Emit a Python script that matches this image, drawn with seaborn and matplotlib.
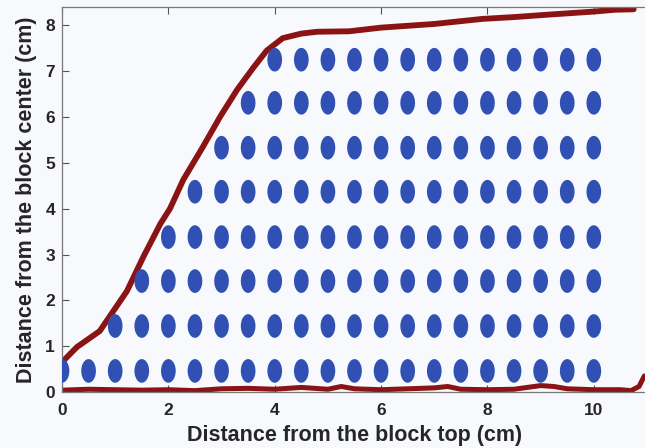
import numpy as np
import pandas as pd
import matplotlib
matplotlib.use("Agg")
import matplotlib.pyplot as plt
from matplotlib.path import Path
import seaborn as sns

# Measurement grid: column positions along the block top and row heights
col_x = [0.0, 0.5, 1.0, 1.5, 2.0, 2.5, 3.0, 3.5, 4.0, 4.5, 5.0,
         5.5, 6.0, 6.5, 7.0, 7.5, 8.0, 8.5, 9.0, 9.5, 10.0]
row_y = [0.46, 1.44, 2.42, 3.38, 4.37, 5.33, 6.31, 7.25]
row_start = [0.0, 1.0, 1.5, 2.0, 2.5, 3.0, 3.5, 4.0]

# Deformed boundary (upper curve)
curve_x = [0.0, 0.28, 0.71, 1.22, 1.53, 1.85, 2.03, 2.28, 2.65, 2.97, 3.29,
           3.6, 3.85, 4.15, 4.5, 4.8, 5.4, 6.0, 7.0, 7.9, 8.5, 9.1, 10.0, 10.4, 10.75]
curve_y = [0.65, 0.98, 1.33, 2.2, 2.95, 3.67, 4.0, 4.63, 5.35, 6.0, 6.59,
           7.08, 7.45, 7.72, 7.82, 7.86, 7.87, 7.95, 8.03, 8.14, 8.18, 8.23, 8.3, 8.34, 8.35]

# Lower edge trace
base_x = [0.0, 0.5, 1.0, 1.5, 2.0, 2.5, 3.0, 3.5, 4.0, 4.5, 5.0, 5.25, 5.5,
          6.0, 6.5, 7.0, 7.25, 7.5, 8.0, 8.5, 9.0, 9.25, 9.5, 10.0, 10.5,
          10.7, 10.85, 10.95]
base_y = [0.04, 0.06, 0.05, 0.04, 0.05, 0.03, 0.07, 0.08, 0.06, 0.1, 0.06, 0.12, 0.07,
          0.05, 0.07, 0.09, 0.12, 0.06, 0.05, 0.06, 0.14, 0.12, 0.07, 0.05, 0.05,
          0.03, 0.12, 0.35]

x_ticks = [0, 2, 4, 6, 8, 10]
y_ticks = [0, 1, 2, 3, 4, 5, 6, 7, 8]

pts = [(x, y) for y, x0 in zip(row_y, row_start) for x in col_x if x >= x0 - 1e-9]
grid = pd.DataFrame(pts, columns=["x", "y"])
curve = pd.DataFrame({"x": curve_x, "y": curve_y})
base = pd.DataFrame({"x": base_x, "y": base_y})

sns.set_style("ticks")
plt.rcParams["font.family"] = ["Liberation Sans", "DejaVu Sans"]

bg = "#F7F9FC"
fig = plt.figure(figsize=(6.45, 4.48), dpi=100, facecolor=bg)
ax = fig.add_axes([62 / 645, 1 - 392 / 448, 585 / 645, (392 - 7) / 448])
ax.set_facecolor(bg)

# vertical ellipse marker
t = np.linspace(0, 2 * np.pi, 60)
ell = Path(np.column_stack([0.62 * np.sin(t), np.cos(t)]), closed=True)

red = "#8A1414"
sns.lineplot(data=base, x="x", y="y", ax=ax, color=red, lw=3.6,
             sort=False, estimator=None, zorder=2)
sns.lineplot(data=curve, x="x", y="y", ax=ax, color=red, lw=4.2,
             sort=False, estimator=None, zorder=2, solid_capstyle="round")
sns.scatterplot(data=grid, x="x", y="y", ax=ax, marker=ell, s=290,
                color="#3050B4", edgecolor="none", linewidth=0, zorder=3)

ax.set_xlim(0, 11)
ax.set_ylim(0, 8.4)
ax.set_xticks(x_ticks)
ax.set_yticks(y_ticks)
ax.tick_params(direction="in", length=5, width=0.8, color="#555555",
               top=True, right=False, labelsize=12.5)
ax.tick_params(axis="x", pad=8)
ax.tick_params(axis="y", pad=5)
for lab in ax.get_xticklabels() + ax.get_yticklabels():
    lab.set_fontweight("bold")
for s in ax.spines.values():
    s.set_color("#777777")
    s.set_linewidth(0.9)

ax.set_xlabel("Distance from the block top (cm)", fontsize=15.5, fontweight="bold", labelpad=5)
ax.set_ylabel("Distance from the block center (cm)", fontsize=15.5, fontweight="bold", labelpad=6)

fig.savefig("out.png", dpi=100, facecolor=bg)
